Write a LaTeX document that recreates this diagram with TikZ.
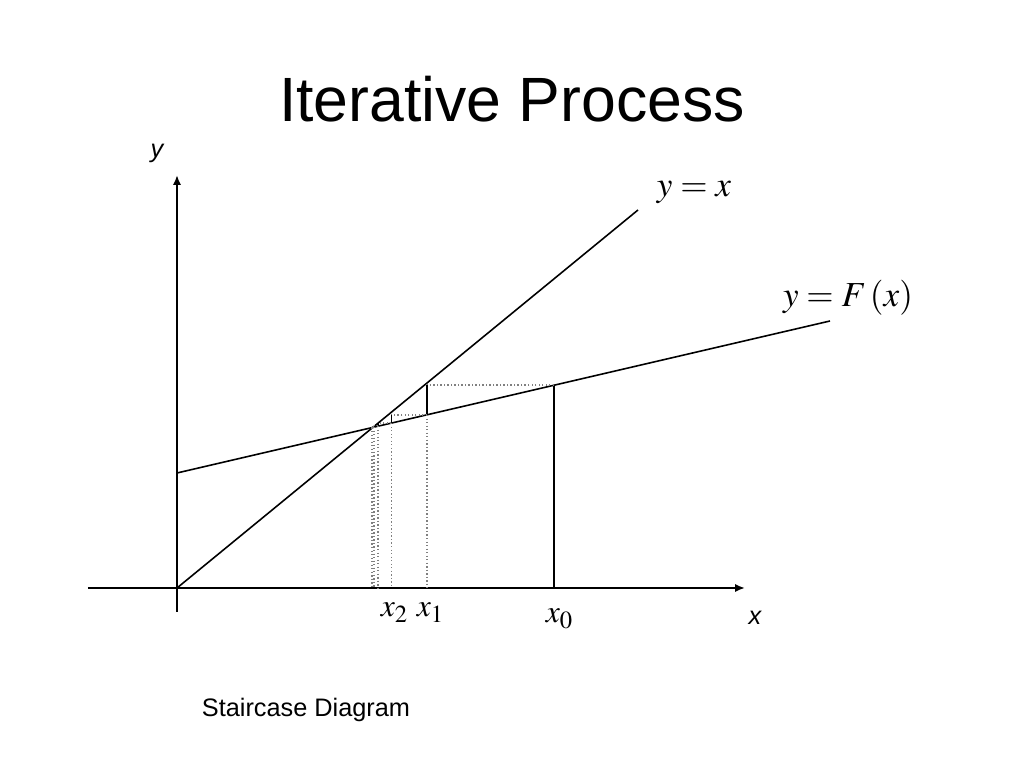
\documentclass[tikz,border=0pt]{standalone}
\usepackage{mathptmx}
\usepackage[no-math]{fontspec}
\setmainfont{Liberation Sans}
\usetikzlibrary{arrows.meta}
\tikzset{guide/.style={gray,line width=.35pt,dash pattern=on .4pt off .6pt},
  graph/.style={line width=.45pt},
  riser/.style={line width=.45pt},
  lab/.style={anchor=base,font=\fontsize{10}{12}\selectfont},
  sub/.style={anchor=base,font=\fontsize{9}{11}\selectfont},
  axlab/.style={anchor=base,font=\fontsize{7.2}{9}\selectfont\itshape}}
\begin{document}
\begin{tikzpicture}[>={Latex[length=2.8pt,width=2.3pt]}]
\useasboundingbox (-1.77,-1.80) rectangle (8.47,5.88);
\node[anchor=base,font=\fontsize{17.8}{20}\selectfont] (title) at (3.35,4.66) {Iterative Process};

% axes
\draw[->,line width=.55pt] (-.89,0)--(5.68,0);
\draw[->,line width=.55pt] (0,-.24)--(0,4.13);
\node[axlab] (ylab) at (-.20,4.30) {y};
\node[axlab] (xlab) at (5.78,-.37) {x};

% the two lines
\draw[graph] (0,0)--(4.61,3.78);
\draw[graph] (0,1.15)--(6.53,2.67);
\node[lab] (diag) at (5.17,3.91) {$y=x$};
\node[lab] (fline) at (6.71,2.81) {$y=F\,(x)$};

% staircase
\draw[riser] (3.77,0)--(3.77,2.03);
\foreach \a/\b/\h/\l in {3.77/2.50/2.03/1.73, 2.50/2.145/1.73/1.65,
    2.145/2.01/1.65/1.62, 2.01/1.97/1.62/1.61, 1.97/1.95/1.61/1.605}{
  \draw[guide] (\a,\h)--(\b,\h);
  \draw[riser] (\b,\h)--(\b,\l);
  \draw[guide] (\b,\l)--(\b,0);
}
\node[sub] (x0) at (3.83,-.35) {$x_0$};
\node[sub] (x1) at (2.54,-.29) {$x_1$};
\node[sub] (x2) at (2.18,-.29) {$x_2$};

\node[anchor=base,font=\fontsize{7.2}{9}\selectfont] (cap) at (1.29,-1.29) {Staircase Diagram};
\end{tikzpicture}
\end{document}
